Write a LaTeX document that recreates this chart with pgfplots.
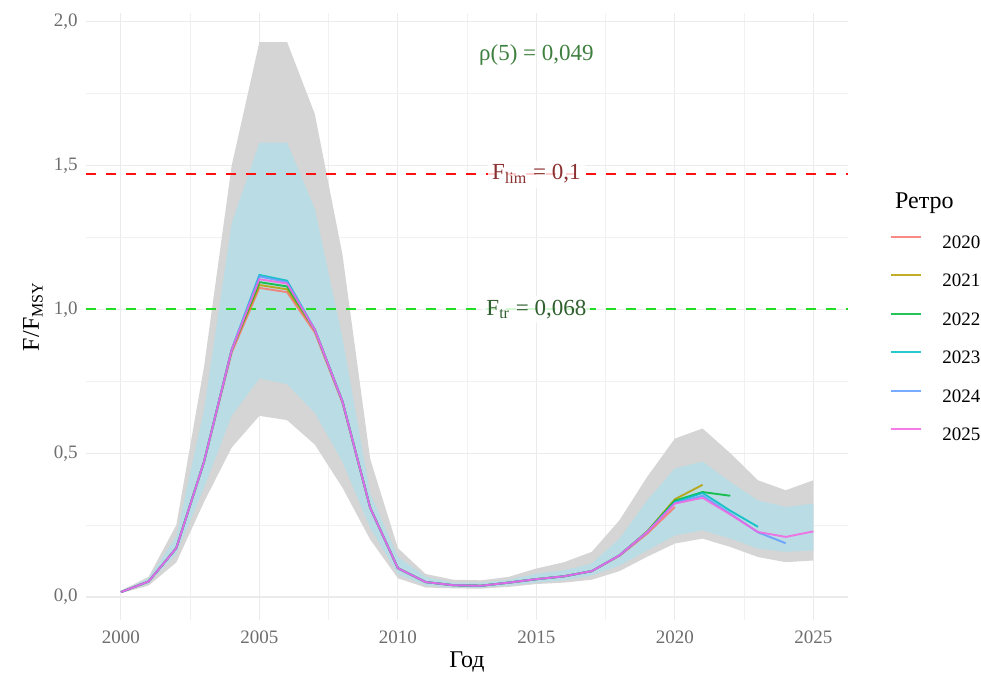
\documentclass[border=0pt]{standalone}
\usepackage{fontspec}
\setmainfont{Liberation Serif}
\usepackage{pgfplots}
\pgfplotsset{compat=1.18}
\definecolor{c2020}{HTML}{F8766D}
\definecolor{c2021}{HTML}{B79F00}
\definecolor{c2022}{HTML}{00BA38}
\definecolor{c2023}{HTML}{00BFC4}
\definecolor{c2024}{HTML}{619CFF}
\definecolor{c2025}{HTML}{F564E3}
\definecolor{bandgrey}{HTML}{D5D5D5}
\definecolor{bandblue}{HTML}{BADCE4}
\definecolor{gridc}{HTML}{EBEBEB}
\definecolor{tickc}{HTML}{6E6E6E}
\definecolor{limred}{HTML}{FF1010}
\definecolor{trgreen}{HTML}{22DD22}
\definecolor{txtrho}{HTML}{3F7F3F}
\definecolor{txtlim}{HTML}{8B3030}
\definecolor{txttr}{HTML}{2F5F2F}
\begin{document}
\begin{tikzpicture}
\begin{axis}[
  width=381pt, height=303.5pt, scale only axis,
  xmin=1998.74, xmax=2026.25, ymin=-0.08, ymax=2.031,
  clip=false,
  axis line style={draw=none},
  major tick length=0pt, minor tick length=0pt,
  xtick={2000,2005,2010,2015,2020,2025},
  xticklabels={2000,2005,2010,2015,2020,2025},
  minor xtick={2002.5,2007.5,2012.5,2017.5,2022.5},
  ytick={0,0.5,1,1.5,2},
  yticklabels={{0,0},{0,5},{1,0},{1,5},{2,0}},
  minor ytick={0.25,0.75,1.25,1.75},
  grid=both,
  major grid style={draw=gridc, line width=0.6pt},
  minor grid style={draw=gridc!70, line width=0.3pt},
  ticklabel style={font=\fontsize{9.5}{11}\selectfont, text=tickc, inner sep=0pt},
  xticklabel style={anchor=north, yshift=-5pt},
  yticklabel style={anchor=east, xshift=-4pt},
  xlabel={Год},
  ylabel={F/F\textsubscript{MSY}},
  label style={font=\fontsize{12}{14}\selectfont},
  xlabel style={at={(axis description cs:0.5,-0.0692)}, anchor=center},
  ylabel style={at={(axis description cs:-0.0696,0.5)}, anchor=center},
  legend style={at={(axis description cs:1.0551,0.6343)}, anchor=north west,
    draw=none, fill=none, inner sep=0pt, row sep=11.45pt,
    font=\fontsize{9.5}{11}\selectfont, nodes={inner sep=0pt},
    /tikz/every odd column/.append style={column sep=10pt}},
  legend cell align=left,
  legend image code/.code={\draw[#1, line width=1pt] (0pt,0.33em) -- (15pt,0.33em);},
]
% outer band
\addplot[fill=bandgrey, draw=none, forget plot] coordinates {
 (2000,0.022) (2001,0.07) (2002,0.25) (2003,0.80) (2004,1.50) (2005,1.93) (2006,1.93)
 (2007,1.68) (2008,1.19) (2009,0.48) (2010,0.17) (2011,0.08) (2012,0.06) (2013,0.058)
 (2014,0.07) (2015,0.099) (2016,0.121) (2017,0.157) (2018,0.267) (2019,0.418) (2020,0.551)
 (2021,0.586) (2022,0.50) (2023,0.406) (2024,0.371) (2025,0.406)
 (2025,0.127) (2024,0.121) (2023,0.139) (2022,0.174) (2021,0.203) (2020,0.186) (2019,0.14)
 (2018,0.09) (2017,0.06) (2016,0.05) (2015,0.045) (2014,0.035) (2013,0.029) (2012,0.03)
 (2011,0.033) (2010,0.065) (2009,0.20) (2008,0.38) (2007,0.53) (2006,0.615) (2005,0.63)
 (2004,0.52) (2003,0.33) (2002,0.12) (2001,0.04) (2000,0.013)};
% inner band
\addplot[fill=bandblue, draw=none, forget plot] coordinates {
 (2000,0.02) (2001,0.065) (2002,0.21) (2003,0.65) (2004,1.30) (2005,1.58) (2006,1.58)
 (2007,1.35) (2008,0.90) (2009,0.36) (2010,0.14) (2011,0.07) (2012,0.05) (2013,0.05)
 (2014,0.06) (2015,0.081) (2016,0.093) (2017,0.116) (2018,0.203) (2019,0.336) (2020,0.447)
 (2021,0.471) (2022,0.40) (2023,0.336) (2024,0.313) (2025,0.325)
 (2025,0.162) (2024,0.157) (2023,0.168) (2022,0.203) (2021,0.232) (2020,0.214) (2019,0.162)
 (2018,0.109) (2017,0.075) (2016,0.058) (2015,0.05) (2014,0.04) (2013,0.032) (2012,0.033)
 (2011,0.04) (2010,0.08) (2009,0.24) (2008,0.47) (2007,0.64) (2006,0.74) (2005,0.76)
 (2004,0.63) (2003,0.38) (2002,0.15) (2001,0.047) (2000,0.015)};
% reference lines
\addplot[limred, line width=1pt, dash pattern=on 5pt off 5pt, forget plot] coordinates {(1998.74,1.4706) (2026.25,1.4706)};
\addplot[trgreen, line width=1pt, dash pattern=on 5pt off 5pt, forget plot] coordinates {(1998.74,1.0) (2026.25,1.0)};
% retrospective runs
\addplot[c2020, line width=0.95pt, opacity=0.85] coordinates {
 (2000,0.017) (2001,0.054) (2002,0.17) (2003,0.47) (2004,0.85) (2005,1.075) (2006,1.06)
 (2007,0.92) (2008,0.675) (2009,0.31) (2010,0.10) (2011,0.052) (2012,0.041) (2013,0.039)
 (2014,0.05) (2015,0.062) (2016,0.072) (2017,0.09) (2018,0.143) (2019,0.22) (2020,0.313)};
\addlegendentry{2020}
\addplot[c2021, line width=0.95pt, opacity=0.85] coordinates {
 (2000,0.017) (2001,0.054) (2002,0.17) (2003,0.47) (2004,0.86) (2005,1.085) (2006,1.07)
 (2007,0.93) (2008,0.68) (2009,0.31) (2010,0.10) (2011,0.052) (2012,0.041) (2013,0.039)
 (2014,0.05) (2015,0.062) (2016,0.072) (2017,0.09) (2018,0.145) (2019,0.228) (2020,0.34)
 (2021,0.39)};
\addlegendentry{2021}
\addplot[c2022, line width=0.95pt, opacity=0.85] coordinates {
 (2000,0.017) (2001,0.054) (2002,0.17) (2003,0.47) (2004,0.86) (2005,1.095) (2006,1.08)
 (2007,0.93) (2008,0.68) (2009,0.31) (2010,0.10) (2011,0.052) (2012,0.041) (2013,0.039)
 (2014,0.05) (2015,0.062) (2016,0.072) (2017,0.09) (2018,0.145) (2019,0.227) (2020,0.335)
 (2021,0.365) (2022,0.352)};
\addlegendentry{2022}
\addplot[c2023, line width=0.95pt, opacity=0.85] coordinates {
 (2000,0.017) (2001,0.054) (2002,0.17) (2003,0.47) (2004,0.86) (2005,1.12) (2006,1.10)
 (2007,0.93) (2008,0.68) (2009,0.31) (2010,0.10) (2011,0.052) (2012,0.041) (2013,0.039)
 (2014,0.05) (2015,0.062) (2016,0.072) (2017,0.09) (2018,0.145) (2019,0.226) (2020,0.33)
 (2021,0.362) (2022,0.30) (2023,0.244)};
\addlegendentry{2023}
\addplot[c2024, line width=0.95pt, opacity=0.85] coordinates {
 (2000,0.017) (2001,0.054) (2002,0.17) (2003,0.47) (2004,0.86) (2005,1.115) (2006,1.095)
 (2007,0.93) (2008,0.68) (2009,0.31) (2010,0.10) (2011,0.052) (2012,0.041) (2013,0.039)
 (2014,0.05) (2015,0.062) (2016,0.072) (2017,0.09) (2018,0.145) (2019,0.226) (2020,0.327)
 (2021,0.352) (2022,0.29) (2023,0.225) (2024,0.187)};
\addlegendentry{2024}
\addplot[c2025, line width=0.95pt, opacity=0.85] coordinates {
 (2000,0.017) (2001,0.054) (2002,0.17) (2003,0.47) (2004,0.86) (2005,1.105) (2006,1.09)
 (2007,0.93) (2008,0.68) (2009,0.31) (2010,0.10) (2011,0.052) (2012,0.041) (2013,0.039)
 (2014,0.05) (2015,0.062) (2016,0.072) (2017,0.09) (2018,0.145) (2019,0.226) (2020,0.325)
 (2021,0.345) (2022,0.287) (2023,0.226) (2024,0.209) (2025,0.228)};
\addlegendentry{2025}
% annotations
\node[font=\fontsize{11.5}{13}\selectfont, text=txtrho] at (axis cs:2015,1.885) {ρ(5) = 0,049};
\node[font=\fontsize{11.5}{13}\selectfont, text=txtlim, fill=white, fill opacity=0.8, text opacity=1, inner sep=2pt] at (axis cs:2015,1.4706) {F\textsubscript{lim} = 0,1};
\node[font=\fontsize{11.5}{13}\selectfont, text=txttr, fill=white, fill opacity=0.8, text opacity=1, inner sep=2pt] at (axis cs:2015,1.0) {F\textsubscript{tr} = 0,068};
\node[anchor=west, font=\fontsize{12}{14}\selectfont] at (axis description cs:1.0525,0.687) {Ретро};
\end{axis}
\path ([shift={(-43pt,-29.5pt)}]current axis.south west) rectangle ([shift={(66.5pt,6.5pt)}]current axis.north east);
\end{tikzpicture}
\end{document}
